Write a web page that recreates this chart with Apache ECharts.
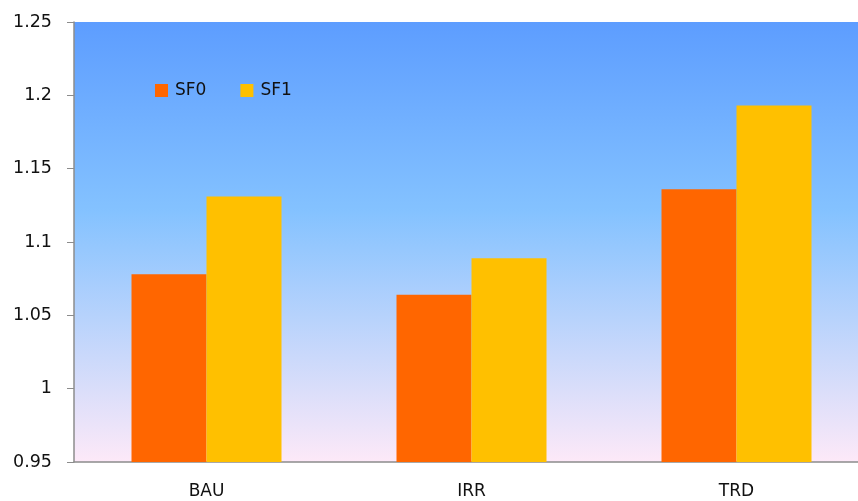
<!DOCTYPE html>
<html>
<head>
<meta charset="utf-8">
<script src="https://cdn.jsdelivr.net/npm/echarts@6/dist/echarts.min.js"></script>
<style>
  html, body { margin: 0; padding: 0; background: #ffffff; overflow: hidden; }
  /* the plot runs a little past the right edge of the window */
  #chart { width: 870px; height: 501px; }
</style>
</head>
<body>
<div id="chart"></div>
<script>
// Scenario categories and the two series plotted for each
const categories = ['BAU', 'IRR', 'TRD'];
const sf0Values = [1.078, 1.064, 1.136];
const sf1Values = [1.131, 1.089, 1.193];
const seriesNames = ['SF0', 'SF1'];

const chart = echarts.init(document.getElementById('chart'));
const fontFamily = '"DejaVu Sans", Verdana, sans-serif';

chart.setOption({
  animation: false,
  textStyle: { fontFamily: fontFamily },
  grid: {
    left: 74,
    right: 1,
    top: 22,
    bottom: 39,
    show: true,
    borderWidth: 0,
    backgroundColor: new echarts.graphic.LinearGradient(0, 0, 0, 1, [
      { offset: 0, color: '#5d9dff' },
      { offset: 0.43, color: '#84c2ff' },
      { offset: 1, color: '#fde9f8' }
    ])
  },
  legend: {
    left: 150,
    top: 77,
    itemWidth: 13,
    itemHeight: 13,
    itemGap: 34,
    icon: 'rect',
    textStyle: { fontSize: 17, color: '#111111', fontFamily: fontFamily, padding: [0, 0, 0, 2] },
    data: seriesNames
  },
  xAxis: {
    type: 'category',
    data: categories,
    axisLine: { lineStyle: { color: '#8c8c8c', width: 1.5 } },
    axisTick: { show: false },
    axisLabel: { fontSize: 17, color: '#111111', margin: 21 }
  },
  yAxis: {
    type: 'value',
    min: 0.95,
    max: 1.25,
    interval: 0.05,
    axisLine: { show: true, lineStyle: { color: '#8c8c8c', width: 1.5 } },
    axisTick: { show: true, length: 7, lineStyle: { color: '#8c8c8c' } },
    splitLine: { show: false },
    axisLabel: { fontSize: 17.5, color: '#111111', margin: 22 }
  },
  series: [
    {
      name: seriesNames[0],
      type: 'bar',
      data: sf0Values,
      barWidth: 75,
      barGap: '0%',
      itemStyle: { color: '#ff6600' }
    },
    {
      name: seriesNames[1],
      type: 'bar',
      data: sf1Values,
      barWidth: 75,
      barGap: '0%',
      itemStyle: { color: '#ffc000' }
    }
  ]
});
</script>
</body>
</html>
